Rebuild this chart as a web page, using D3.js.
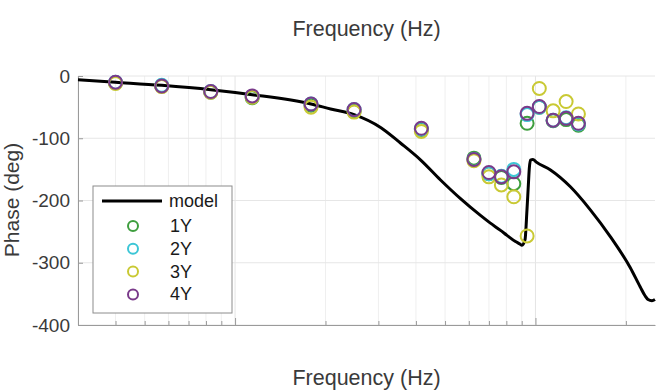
<!DOCTYPE html>
<html>
<head>
<meta charset="utf-8">
<script src="https://cdn.jsdelivr.net/npm/d3@7"></script>
<style>
  body { margin: 0; background: #fff; }
  svg { display: block; font-family: "Liberation Sans", Arial, sans-serif; }
</style>
</head>
<body>
<svg id="chart" width="659" height="391"></svg>
<script>
// measured points (Hz) and phase per series
const measFreq = [0.40, 0.57, 0.83, 1.14, 1.79, 2.49, 4.17, 6.24, 7.0, 7.7, 8.47, 9.38, 10.3, 11.45, 12.65, 13.9];
const phase1Y  = [-11, -16, -26, -35, -47, -57, -86, -132, -157, -163, -173, -76, -50, -72, -70, -79];
const phase2Y  = [-10, -15, -25, -33, -45, -54, -85, -134, -157, -161, -150, -62, -50, -71, -67, -77];
const phase3Y  = [-12, -17, -26, -34, -50, -58, -89, -136, -162, -175, -194, -257, -20, -56, -41, -61];
const phase4Y  = [-10, -16, -25, -32, -45, -54, -84, -134, -155, -162, -154, -60, -49, -71, -68, -76];

// model curve
const modelFreq  = [0.30, 0.40, 0.57, 0.83, 1.14, 1.79, 2.08, 2.49, 3.06, 3.56, 4.15, 4.83, 5.63, 6.56, 7.06, 7.65,
                    8.04, 8.58, 8.88, 9.02, 9.23, 9.37, 9.47, 9.54, 9.63, 9.81, 10.04, 11.22, 13.07, 15.23, 17.75,
                    20.69, 22.33, 23.16, 23.7, 24.43, 25.0];
const modelPhase = [-6, -10, -15, -22, -30, -45, -53, -62, -83, -108, -135, -167, -197, -224, -236, -248,
                    -256, -266, -270, -272, -263, -215, -175, -148, -135, -134, -138, -151, -178, -215, -258,
                    -308, -339, -353, -359, -361, -359];

const seriesNames  = ['1Y', '2Y', '3Y', '4Y'];
const seriesColors = ['#3e9e3e', '#3cc6d6', '#c9c934', '#7a3a8a'];
const seriesData   = [phase1Y, phase2Y, phase3Y, phase4Y];

const yTicks = [0, -100, -200, -300, -400];

const margin = { top: 76, right: 4, bottom: 66, left: 78 };
const W = 659, H = 391;
const width  = W - margin.left - margin.right;
const height = H - margin.top - margin.bottom;

const x = d3.scaleLog().domain([0.3, 25]).range([0, width]);
const y = d3.scaleLinear().domain([-400, 0]).range([height, 0]);

const isDecade = d => Math.abs(Math.log10(d) - Math.round(Math.log10(d))) < 1e-9;

const svg = d3.select('#chart');
const g = svg.append('g').attr('transform', `translate(${margin.left},${margin.top})`);

// grid
const xt = x.ticks();
g.append('g').selectAll('line')
    .data(xt)
    .enter().append('line')
    .attr('x1', d => x(d)).attr('x2', d => x(d))
    .attr('y1', 0).attr('y2', height)
    .attr('stroke', d => isDecade(d) ? '#e4e4e4' : '#efefef')
    .attr('stroke-width', 1);
g.append('g').selectAll('line')
    .data(yTicks)
    .enter().append('line')
    .attr('x1', 0).attr('x2', width)
    .attr('y1', d => y(d)).attr('y2', d => y(d))
    .attr('stroke', '#e6e6e6')
    .attr('stroke-width', 1);

// axes
const yAxis = g.append('g')
    .call(d3.axisLeft(y).tickValues(yTicks).tickFormat(d => String(d))
        .tickSize(-5).tickSizeOuter(0).tickPadding(8));
yAxis.select('.domain').attr('stroke', '#9a9a9a');
yAxis.selectAll('line').attr('stroke', '#9a9a9a');
yAxis.selectAll('text').attr('font-size', 19).attr('fill', '#3a3a3a');

const xAxis = g.append('g')
    .attr('transform', `translate(0,${height})`)
    .call(d3.axisBottom(x).tickValues(xt).tickSize(-4).tickSizeOuter(0).tickFormat(''));
xAxis.select('.domain').attr('stroke', '#9a9a9a');
xAxis.selectAll('.tick line')
    .attr('stroke', '#9a9a9a')
    .attr('y2', d => isDecade(d) ? -7 : -4);

// model line
const line = d3.line()
    .x((d, i) => x(modelFreq[i]))
    .y(d => y(d))
    .curve(d3.curveMonotoneX);
g.append('path')
    .datum(modelPhase)
    .attr('d', line)
    .attr('fill', 'none')
    .attr('stroke', '#000')
    .attr('stroke-width', 3)
    .attr('stroke-linejoin', 'round');

// measured circles
seriesData.forEach((vals, s) => {
    g.append('g').selectAll('circle')
        .data(vals)
        .enter().append('circle')
        .attr('cx', (d, i) => x(measFreq[i]))
        .attr('cy', d => y(d))
        .attr('r', 6.5)
        .attr('fill', 'none')
        .attr('stroke', seriesColors[s])
        .attr('stroke-width', 2);
});

// labels
svg.append('text')
    .attr('x', margin.left + width / 2).attr('y', 36)
    .attr('text-anchor', 'middle').attr('font-size', 21.5).attr('fill', '#3a3a3a')
    .text('Frequency (Hz)');
svg.append('text')
    .attr('x', margin.left + width / 2).attr('y', 385)
    .attr('text-anchor', 'middle').attr('font-size', 21.5).attr('fill', '#3a3a3a')
    .text('Frequency (Hz)');
svg.append('text')
    .attr('transform', 'translate(19,200) rotate(-90)')
    .attr('text-anchor', 'middle').attr('font-size', 21).attr('fill', '#3a3a3a')
    .text('Phase (deg)');

// legend
const lg = svg.append('g').attr('transform', 'translate(93,186)');
lg.append('rect')
    .attr('width', 139).attr('height', 127)
    .attr('fill', '#fff').attr('stroke', '#8c8c8c').attr('stroke-width', 1);
lg.append('line')
    .attr('x1', 9).attr('x2', 69).attr('y1', 15).attr('y2', 15)
    .attr('stroke', '#000').attr('stroke-width', 3);
lg.append('text')
    .attr('x', 76).attr('y', 21).attr('font-size', 18).attr('fill', '#1a1a1a')
    .text('model');
seriesNames.forEach((name, s) => {
    const cy = 40 + s * 22.8;
    lg.append('circle')
        .attr('cx', 40).attr('cy', cy).attr('r', 5)
        .attr('fill', 'none').attr('stroke', seriesColors[s]).attr('stroke-width', 2);
    lg.append('text')
        .attr('x', 77).attr('y', cy + 6).attr('font-size', 18).attr('fill', '#1a1a1a')
        .text(name);
});
</script>
</body>
</html>
